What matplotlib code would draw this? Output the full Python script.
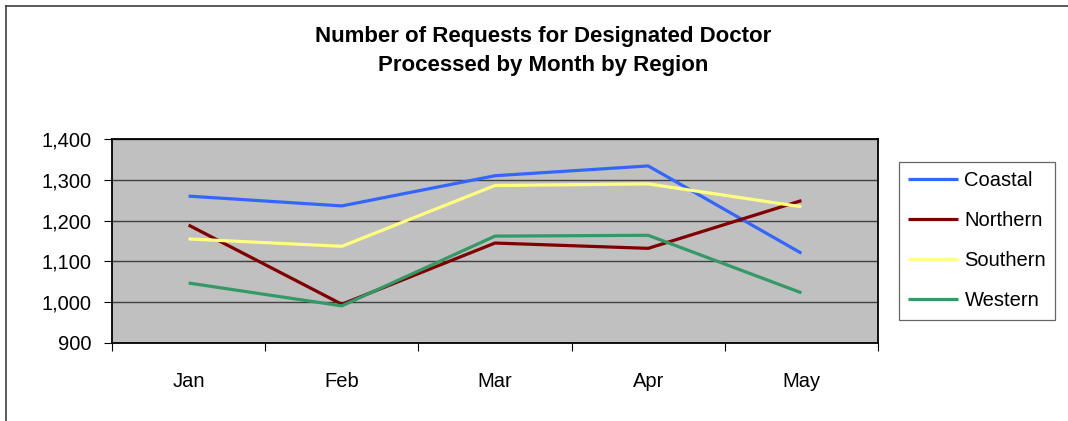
import matplotlib.pyplot as plt
from matplotlib.lines import Line2D
from matplotlib.ticker import FixedLocator, FuncFormatter

months = ['Jan', 'Feb', 'Mar', 'Apr', 'May']
coastal = [1260, 1236, 1310, 1334, 1120]
northern = [1189, 995, 1145, 1132, 1249]
southern = [1155, 1137, 1286, 1290, 1234]
western = [1047, 991, 1162, 1164, 1023]

series = [
    ('Coastal', coastal, '#3366FF'),
    ('Northern', northern, '#800000'),
    ('Southern', southern, '#FFFF80'),
    ('Western', western, '#339966'),
]

plt.rcParams['font.family'] = ['Liberation Sans', 'DejaVu Sans']

W, H = 1068, 421
fig = plt.figure(figsize=(W / 100, H / 100), dpi=100)
ax = fig.add_axes([112 / W, 1 - 343 / H, (878 - 112) / W, (343 - 139) / H])
ax.set_facecolor('#C0C0C0')

x = list(range(len(months)))
for name, vals, col in series:
    ax.plot(x, vals, color=col, lw=2.3, label=name, solid_capstyle='butt', zorder=3)

ax.set_xlim(-0.5, len(months) - 0.5)
ax.set_ylim(900, 1400)
ax.set_yticks(range(900, 1401, 100))
ax.yaxis.set_major_formatter(FuncFormatter(lambda v, p: f'{int(v):,}'))
ax.grid(axis='y', color='#404040', lw=1.0, zorder=1)

ax.set_xticks(x)
ax.set_xticklabels(months)
ax.xaxis.set_minor_locator(FixedLocator([i + 0.5 for i in range(len(months) - 1)] + [-0.5, len(months) - 0.5]))
ax.tick_params(axis='x', which='major', length=0, pad=21, labelsize=14.5)
ax.tick_params(axis='x', which='minor', length=6, direction='out', width=0.8)
ax.tick_params(axis='y', length=6, direction='out', width=0.8, pad=9, labelsize=14.5)

for s in ax.spines.values():
    s.set_color('black')
    s.set_linewidth(1.3)

fig.text(543 / W, 1 - 51 / H, 'Number of Requests for Designated Doctor\nProcessed by Month by Region',
         ha='center', va='center', fontsize=16, fontweight='bold', linespacing=1.5)

# chart area border (left and top visible)
fig.add_artist(Line2D([6 / W, 6 / W], [0, 1 - 6 / H], transform=fig.transFigure, color='#404040', lw=1.2))
fig.add_artist(Line2D([6 / W, 1], [1 - 6 / H, 1 - 6 / H], transform=fig.transFigure, color='#404040', lw=1.2))

leg = ax.legend(loc='upper left', bbox_to_anchor=(899 / W, 1 - 162 / H), bbox_transform=fig.transFigure,
                frameon=True, fancybox=False, fontsize=14.5, handlelength=2.5, handletextpad=0.3,
                labelspacing=1.05, borderpad=0.45, borderaxespad=0)
leg.get_frame().set_edgecolor('#404040')
leg.get_frame().set_linewidth(0.9)

fig.savefig('out.png', dpi=100)
